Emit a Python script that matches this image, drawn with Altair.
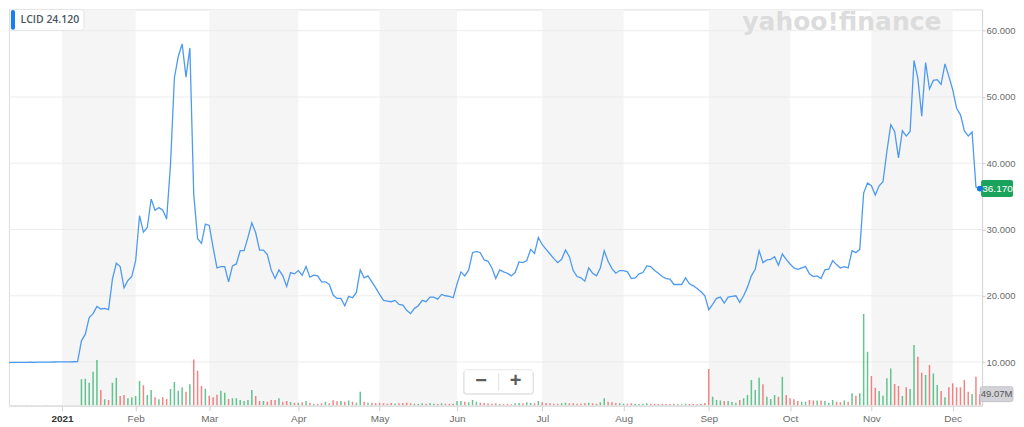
import altair as alt
import pandas as pd

# ---------------- data ----------------
ticker_label = "LCID 24.120"
watermark = "yahoo!finance"
start_date = "2020-12-10"
end_date = "2021-12-10"
market_holidays = ["2020-12-25", "2021-01-01", "2021-01-18", "2021-02-15", "2021-04-02",
                   "2021-05-31", "2021-07-05", "2021-09-06", "2021-11-25"]

close_prices = [
    9.93, 9.92, 9.95, 9.94, 9.95, 9.96, 9.95, 9.97, 9.96, 9.98,
    9.97, 9.98, 9.99, 10.00, 10.01, 10.02, 10.03, 10.02, 10.04, 10.05,
    13.2, 14.2, 16.7, 17.3, 18.4, 18.0, 18.1, 17.9, 22.5, 24.9,
    24.4, 21.2, 22.3, 22.9, 25.3, 32.1, 29.6, 30.3, 34.6, 32.9,
    33.3, 32.9, 31.6, 39.8, 52.9, 56.1, 58.0, 53.0, 57.4, 35.3,
    28.6, 27.9, 30.8, 30.6, 27.3, 24.2, 24.4, 24.4, 22.1, 24.5,
    24.8, 26.8, 26.8, 28.8, 31.0, 29.5, 26.9, 26.9, 26.2, 23.9,
    22.6, 23.9, 23.0, 21.4, 23.5, 23.3, 23.8, 23.1, 24.4, 22.8,
    23.1, 23.0, 22.1, 22.1, 21.7, 20.1, 19.6, 19.6, 18.5, 19.9,
    19.7, 20.5, 23.9, 22.7, 23.0, 22.1, 21.2, 20.2, 19.3, 19.2,
    19.1, 19.3, 18.7, 18.6, 17.8, 17.3, 18.1, 18.5, 19.3, 19.1,
    19.8, 19.8, 19.5, 20.2, 20.0, 19.9, 19.7, 21.8, 23.6, 23.0,
    23.9, 26.5, 26.7, 26.5, 25.4, 25.2, 24.2, 22.6, 23.9, 23.6,
    23.4, 23.0, 23.5, 25.1, 25.0, 25.3, 27.0, 26.4, 28.8, 27.7,
    27.0, 26.3, 25.6, 25.0, 25.5, 26.9, 25.9, 23.8, 22.9, 22.7,
    22.2, 24.2, 23.4, 23.0, 24.2, 26.8, 25.2, 24.1, 23.4, 23.8,
    23.8, 23.6, 22.6, 22.7, 23.3, 23.5, 24.5, 24.4, 23.8, 23.4,
    22.9, 22.6, 22.5, 21.7, 21.7, 21.7, 22.7, 21.8, 21.5, 21.1,
    20.6, 20.0, 17.9, 18.7, 19.6, 19.8, 18.9, 19.8, 19.9, 20.0,
    19.0, 20.0, 21.3, 23.0, 24.0, 26.8, 25.0, 25.4, 25.5, 25.9,
    24.6, 26.3, 25.5, 24.8, 24.2, 24.0, 24.2, 24.4, 23.3, 22.9,
    23.0, 22.6, 23.9, 24.0, 25.3, 24.7, 24.2, 24.4, 24.2, 26.8,
    26.5, 27.0, 35.5, 37.0, 36.6, 35.2, 36.6, 37.2, 41.8, 45.8,
    44.8, 40.8, 44.9, 44.1, 44.8, 55.5, 52.8, 47.1, 55.2, 51.2,
    52.5, 52.6, 51.9, 55.0, 53.1, 51.1, 48.3, 47.3, 44.9, 44.1,
    44.7, 36.4, 36.17,
]

volumes_m = [
    7.3, 1.5, 2.1, 1.2, 1.8, 1.4, 2.3, 1.6, 1.1, 1.9,
    1.3, 2.6, 1.7, 1.2, 1.5, 2.2, 1.8, 2.4, 1.6, 2.9,
    112.3, 115.3, 98.2, 145.2, 195.1, 67.0, 26.9, 24.3, 98.2, 119.6,
    41.4, 45.7, 31.2, 35.4, 41.4, 105.5, 86.7, 45.7, 67.0, 35.4,
    26.9, 35.4, 28.6, 71.3, 101.2, 64.1, 78.1, 59.8, 91.0, 197.7,
    149.5, 84.1, 72.6, 42.7, 35.4, 47.0, 64.1, 55.5, 28.6, 31.2,
    31.2, 24.3, 20.1, 24.3, 67.0, 41.4, 20.1, 20.1, 17.1, 24.3,
    24.3, 31.2, 17.1, 20.1, 15.8, 12.8, 12.8, 14.1, 20.1, 12.8,
    7.3, 7.3, 9.8, 17.1, 9.8, 22.6, 18.4, 20.1, 17.1, 21.4,
    17.1, 12.8, 59.8, 17.1, 12.8, 12.8, 9.8, 12.8, 9.8, 8.5,
    11.5, 8.5, 9.8, 11.5, 12.8, 9.8, 8.5, 7.3, 9.8, 8.5,
    11.5, 8.5, 7.3, 9.8, 8.5, 7.3, 8.5, 20.1, 20.1, 17.1,
    14.1, 24.3, 17.1, 12.8, 11.5, 9.8, 8.5, 9.8, 7.3, 5.6,
    7.3, 5.6, 9.8, 11.5, 9.8, 14.1, 11.5, 9.8, 20.1, 14.1,
    11.5, 9.8, 8.5, 8.5, 9.8, 12.8, 9.8, 9.8, 8.5, 8.5,
    9.8, 12.8, 9.8, 8.5, 14.1, 31.2, 17.1, 14.1, 11.5, 9.8,
    8.5, 8.5, 9.8, 8.5, 7.3, 8.5, 9.8, 8.5, 7.3, 7.3,
    8.5, 7.3, 7.3, 8.5, 7.3, 5.6, 8.5, 7.3, 7.3, 5.6,
    8.5, 11.5, 156.7, 38.4, 24.3, 21.4, 20.1, 20.1, 15.8, 12.8,
    24.3, 31.2, 45.7, 109.7, 67.0, 119.6, 91.0, 38.4, 28.6, 45.7,
    38.4, 123.8, 45.7, 31.2, 26.9, 20.1, 17.1, 17.1, 24.3, 21.4,
    21.4, 21.4, 20.1, 12.8, 24.3, 17.1, 14.1, 21.4, 17.1, 52.5,
    42.7, 52.5, 391.6, 230.6, 126.8, 76.9, 62.8, 42.7, 116.6, 159.3,
    92.7, 84.1, 41.4, 78.1, 71.3, 259.2, 209.2, 140.9, 131.1, 173.8,
    137.9, 88.4, 62.8, 35.4, 78.1, 95.2, 78.1, 78.1, 109.7, 59.8,
    50.0, 123.8, 49.07,
]

price_ticks = [10, 20, 30, 40, 50, 60]

# ---------------- derived tables ----------------
dates = pd.bdate_range(start_date, end_date, freq="C", holidays=market_holidays)
n = min(len(dates), len(close_prices), len(volumes_m))
dates = dates[:n]

month_starts = [i for i in range(1, n) if dates[i].month != dates[i - 1].month]
month_labels = [str(dates[i].year) if dates[i].month == 1 else dates[i].strftime("%b")
                for i in month_starts]

direction = ["down"] + ["up" if close_prices[k] >= close_prices[k - 1] else "down"
                        for k in range(1, n)]
df = pd.DataFrame({"i": list(range(n)), "close": close_prices[:n],
                   "vol": volumes_m[:n], "dir": direction})
last_df = df.tail(1).copy()
last_df["vlabel"] = last_df["vol"].map(lambda v: f"{v:.2f}M")

bands_df = pd.DataFrame({"start": month_starts[0::2], "end": month_starts[1::2]})
grid_df = pd.DataFrame({"p": price_ticks})
one = pd.DataFrame({"t": [ticker_label], "w": [watermark]})

# ---------------- styling ----------------
W, H = 975, 397
BLUE = "#4d9af0"
GREEN = "#2fb16a"
RED = "#f0595b"
FONT = "Liberation Sans"

xs = alt.Scale(domain=[1.29, 252.58], nice=False, zero=False, padding=0)
ps = alt.Scale(domain=[3.42, 63.21], nice=False, zero=False)
vs = alt.Scale(domain=[0, 1695], nice=False, zero=True)

first_label_idx = month_starts[0]
label_expr = ("[" + ",".join(f"'{l}'" for l in month_labels) + "][indexof(["
              + ",".join(str(i) for i in month_starts) + "], datum.value)]")

x_axis = alt.Axis(values=month_starts, labelExpr=label_expr, grid=False,
                  domainColor="#d9d9d9", tickColor="#cfcfcf", tickSize=5,
                  labelFontSize=10, labelFont=FONT, labelPadding=3,
                  labelFlush=False, labelOverlap=False, zindex=1,
                  labelColor={"condition": {"test": f"datum.value == {first_label_idx}", "value": "#333333"},
                              "value": "#6b6b6b"},
                  labelFontWeight={"condition": {"test": f"datum.value == {first_label_idx}", "value": "bold"},
                                   "value": "normal"})
y_axis = alt.Axis(orient="right", values=price_ticks, format=".3f", grid=False,
                  domainColor="#d6d6d6", tickColor="#c9c9c9", tickSize=3,
                  labelColor="#6b6b6b", labelFontSize=9.5, labelFont=FONT,
                  labelPadding=1, zindex=0)


def X(field):
    return alt.X(field, scale=xs, axis=x_axis, title=None)


bands = alt.Chart(bands_df).mark_rect(color="#f5f5f5", clip=True).encode(
    x=X("start:Q"), x2="end:Q",
    y=alt.value(0), y2=alt.value(H))

grid = alt.Chart(grid_df).mark_rule(color="#ececec", strokeWidth=1).encode(
    y=alt.Y("p:Q", scale=ps, axis=None), x=alt.value(0), x2=alt.value(W))

vol = alt.Chart(df).mark_bar(width=1.5, clip=True, opacity=0.75).encode(
    x=X("i:Q"),
    y=alt.Y("vol:Q", scale=vs, axis=None),
    color=alt.Color("dir:N", scale=alt.Scale(domain=["up", "down"], range=[GREEN, RED]), legend=None))

line = alt.Chart(df).mark_line(color=BLUE, strokeWidth=1.3, clip=True).encode(
    x=X("i:Q"),
    y=alt.Y("close:Q", scale=ps, axis=y_axis, title=None))

dot = alt.Chart(last_df).mark_circle(size=34, color="#1b74e4", opacity=1).encode(
    x=X("i:Q"), y=alt.Y("close:Q", scale=ps, axis=None))

price_box = alt.Chart(last_df).mark_rect(color="#1aa35c", yOffset=-8.5, y2Offset=8.5,
                                         cornerRadius=2).encode(
    x=alt.value(974), x2=alt.value(1006),
    y=alt.Y("close:Q", scale=ps, axis=None), y2="close:Q")
price_text = alt.Chart(last_df).mark_text(color="white", fontSize=10, font=FONT,
                                          align="center", baseline="middle").encode(
    x=alt.value(990.5), y=alt.Y("close:Q", scale=ps, axis=None),
    text=alt.Text("close:Q", format=".3f"))

vol_box = alt.Chart(last_df).mark_rect(color="#d2d2d7", stroke="#bcbcc4", strokeWidth=0.8,
                                       yOffset=-7.5, y2Offset=7.5, cornerRadius=2).encode(
    x=alt.value(973), x2=alt.value(1006),
    y=alt.Y("vol:Q", scale=vs, axis=None), y2="vol:Q")
vol_text = alt.Chart(last_df).mark_text(color="#555555", fontSize=9.5, font=FONT,
                                        align="center", baseline="middle").encode(
    x=alt.value(989.5), y=alt.Y("vol:Q", scale=vs, axis=None), text="vlabel:N")

header_box = alt.Chart(one).mark_rect(fill="white", stroke="#e4e4e4", strokeWidth=1,
                                      cornerRadius=3).encode(
    x=alt.value(2), x2=alt.value(75), y=alt.value(0), y2=alt.value(21))
header_bar = alt.Chart(one).mark_rect(color="#1a7df0", cornerRadius=2).encode(
    x=alt.value(2), x2=alt.value(6), y=alt.value(0.5), y2=alt.value(20.5))
header_text = alt.Chart(one).mark_text(color="#4a5560", fontSize=10.5, font="Open Sans",
                                       fontWeight=600, align="left", baseline="middle").encode(
    x=alt.value(11.5), y=alt.value(10.5), text="t:N")

wm = alt.Chart(one).mark_text(color="#dcdcdc", fontSize=25, font="DejaVu Sans", fontWeight="bold",
                              align="center", baseline="alphabetic").encode(
    x=alt.value(834.5), y=alt.value(20.5), text="w:N")

zoom_shadow = alt.Chart(one).mark_rect(fill="#e2e2e2", cornerRadius=3).encode(
    x=alt.value(455), x2=alt.value(526), y=alt.value(362), y2=alt.value(386))
zoom_box = alt.Chart(one).mark_rect(fill="white", stroke="#e6e6e6", cornerRadius=3).encode(
    x=alt.value(456), x2=alt.value(525), y=alt.value(361), y2=alt.value(385))
zoom_div = alt.Chart(one).mark_rule(color="#e0e0e0").encode(
    x=alt.value(490.7), y=alt.value(364), y2=alt.value(382))
zoom_minus = alt.Chart(one).mark_text(text="\u2212", color="#5c5c5c", fontSize=20, fontWeight="bold",
                                      font=FONT, align="center", baseline="middle").encode(
    x=alt.value(473), y=alt.value(372.5))
zoom_plus = alt.Chart(one).mark_text(text="+", color="#5c5c5c", fontSize=20, fontWeight="bold",
                                     font=FONT, align="center", baseline="middle").encode(
    x=alt.value(507.7), y=alt.value(372.5))

chart = alt.layer(
    bands, grid, vol, line, price_box, price_text, dot, vol_box, vol_text,
    wm, header_box, header_bar, header_text,
    zoom_shadow, zoom_box, zoom_div, zoom_minus, zoom_plus,
).resolve_scale(y="independent").properties(
    width=W, height=H, padding=0, background="white"
).configure_view(stroke=None).configure(font=FONT)

chart.save("out.html", embed_options={"renderer": "svg", "actions": False})
